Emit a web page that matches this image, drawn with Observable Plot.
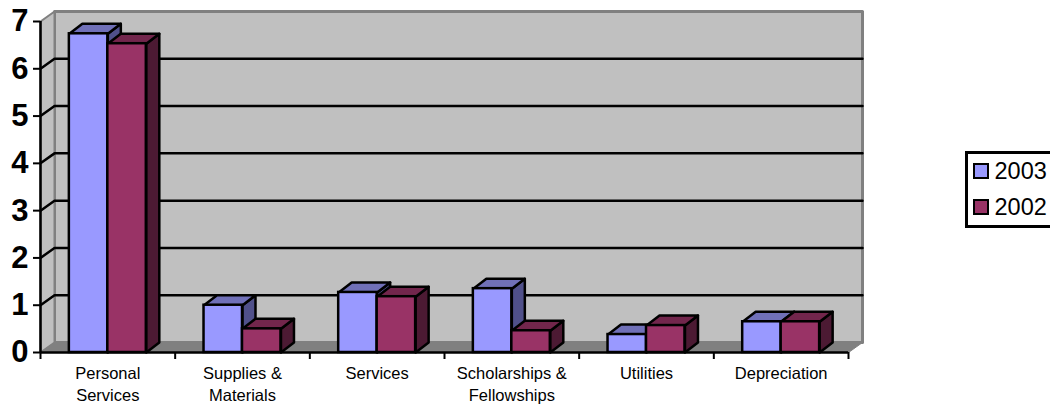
<!DOCTYPE html>
<html>
<head>
<meta charset="utf-8">
<script src="https://cdn.jsdelivr.net/npm/d3@7"></script>
<script src="https://cdn.jsdelivr.net/npm/@observablehq/plot@0.6"></script>
<style>
  html, body { margin: 0; padding: 0; background: #fff; overflow: hidden; width: 1050px; height: 404px; }
  #wrap { position: relative; width: 1050px; height: 404px; font-family: "Liberation Sans", Arial, sans-serif; }
  #legend { position: absolute; left: 965px; top: 151px; width: 110px; height: 71px; border: 3px solid #000; background: #fff; }
  #legend .row { position: absolute; left: 5px; display: flex; align-items: center; font-size: 23.5px; line-height: 24px; }
  #legend i { display: block; width: 12px; height: 12px; border: 2.5px solid #000; margin-right: 5.5px; }
</style>
</head>
<body>
<div id="wrap"></div>
<script>
// Expenses by category, in millions, for two years
const categories = ["Personal\nServices", "Supplies &\nMaterials", "Services", "Scholarships &\nFellowships", "Utilities", "Depreciation"];
const values2003 = [6.74, 1.0, 1.27, 1.35, 0.38, 0.65];
const values2002 = [6.53, 0.5, 1.18, 0.46, 0.57, 0.65];
const series = [
  {year: "2003", values: values2003, front: "#9999ff", top: "#7070b8", side: "#50508a"},
  {year: "2002", values: values2002, front: "#993366", top: "#72264c", side: "#4c1a33"}
];
const yTicks = [0, 1, 2, 3, 4, 5, 6, 7];
const yMax = 7;

// Oblique projection: the depth of the box and of the bars, in data units of each axis
const depthX = 0.104;
const depthY = 0.2114;
const barDepthX = 0.0965;
const barWidth = 1 / 3.5;
const gapStart = 0.75 / 3.5;
const edge = 2.5;

const poly = (points, fill, stroke = "#000", strokeWidth = edge) =>
  Plot.line([...points, points[0]].map(([x, y]) => ({x, y})), {x: "x", y: "y", fill, stroke, strokeWidth});

const n = categories.length;

// Walls and floor of the box
const shell = [
  poly([[depthX, depthY], [n + depthX, depthY], [n + depthX, yMax + depthY], [depthX, yMax + depthY]], "#c0c0c0", "#808080", 3),
  poly([[0, 0], [depthX, depthY], [depthX, yMax + depthY], [0, yMax]], "#c0c0c0", "#808080", 2),
  poly([[0, 0], [n, 0], [n + depthX, depthY], [depthX, depthY]], "#808080", "#808080", 1)
];

// Gridlines run along the back wall and fold down the side wall
const grid = yTicks.filter((v) => v > 0 && v < yMax).map((v) =>
  Plot.line([{x: 0, y: v}, {x: depthX, y: v + depthY}, {x: n + depthX, y: v + depthY}],
    {x: "x", y: "y", stroke: "#000", strokeWidth: edge})
);

// Each bar is a side face, a top face and a front face, painted left to right
const bars = categories.flatMap((_, i) =>
  series.flatMap((s, j) => {
    const x0 = i + gapStart + j * barWidth;
    const x1 = x0 + barWidth;
    const v = s.values[i];
    return [
      poly([[x1, 0], [x1 + barDepthX, depthY], [x1 + barDepthX, v + depthY], [x1, v]], s.side),
      poly([[x0, v], [x1, v], [x1 + barDepthX, v + depthY], [x0 + barDepthX, v + depthY]], s.top),
      Plot.rect([{x0, x1, v}], {x1: "x0", x2: "x1", y1: 0, y2: "v", fill: s.front, stroke: "#000", strokeWidth: edge})
    ];
  })
);

const chart = Plot.plot({
  width: 950,
  height: 404,
  marginLeft: 40,
  marginRight: 102,
  marginTop: 21,
  marginBottom: 52,
  style: {fontFamily: "'Liberation Sans', Arial, sans-serif", background: "transparent", color: "#000", overflow: "visible"},
  x: {type: "linear", domain: [0, n], axis: null},
  y: {domain: [0, yMax], axis: null},
  marks: [
    ...shell,
    ...grid,
    ...bars,
    Plot.ruleY([0], {stroke: "#000", strokeWidth: edge}),
    Plot.ruleX([0], {stroke: "#000", strokeWidth: edge}),
    Plot.axisY({ticks: yTicks, tickSize: 7, tickPadding: 5, fontSize: 31, fontWeight: 700, strokeWidth: 2, tickFormat: (d) => d, label: null}),
    Plot.axisX({ticks: d3.range(n + 1), tickSize: 7, tickFormat: () => "", strokeWidth: 2, label: null}),
    Plot.axisX({ticks: categories.map((_, i) => i + 0.5), tickSize: 0, tickPadding: 11, fontSize: 16.5, lineHeight: 1.33,
      tickFormat: (d) => categories[d - 0.5], label: null})
  ]
});

const wrap = document.getElementById("wrap");
wrap.appendChild(chart);

// Legend at the right of the plot
const legend = document.createElement("div");
legend.id = "legend";
series.forEach((s, k) => {
  const row = document.createElement("div");
  row.className = "row";
  row.style.top = (5 + k * 36) + "px";
  const swatch = document.createElement("i");
  swatch.style.background = s.front;
  row.appendChild(swatch);
  row.appendChild(document.createTextNode(s.year));
  legend.appendChild(row);
});
wrap.appendChild(legend);
</script>
</body>
</html>
